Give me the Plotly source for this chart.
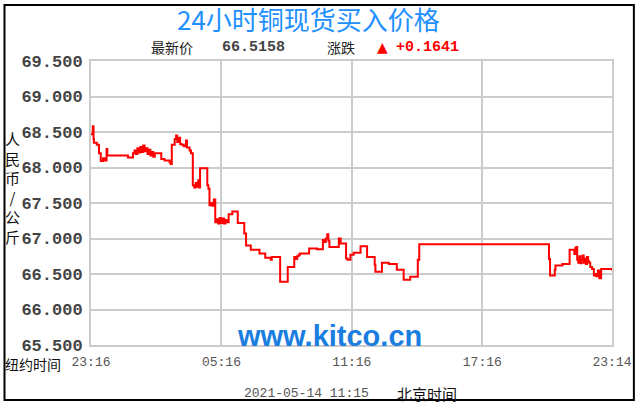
import plotly.graph_objects as go

# ---- data (minutes after 23:16 New York time, price RMB/kg) ----
minutes = [0, 5, 7, 8, 16, 22, 27, 33, 38, 43, 45, 102, 116,
           120, 124, 128, 132, 136, 140, 144, 148, 152, 156, 160, 164, 168, 172, 176,
           194, 203, 217, 220, 223, 231, 235, 238, 242, 246, 250, 256, 262, 265, 272, 276,
           281, 285, 289, 292, 296, 299, 301, 321, 324, 327, 331, 335, 339,
           343, 347, 351, 355, 359, 363, 367, 371, 375, 380, 390, 405, 423, 428,
           441, 465, 481, 496, 499, 522, 543, 561, 565, 569, 573, 577, 602, 624,
           640, 643, 648, 652, 655, 658, 684, 689, 704, 708, 716, 725, 744, 762,
           783, 785, 803, 822, 844, 863, 881, 902, 906,
           1260, 1264, 1267, 1280, 1282, 1301, 1321, 1334, 1337, 1340, 1342, 1345,
           1348, 1351, 1354, 1357, 1360, 1363, 1366, 1369, 1372, 1375, 1378, 1383,
           1388, 1392, 1395, 1399, 1403, 1408, 1438]
prices = [68.47, 68.58, 68.40, 68.35, 68.32, 68.20, 68.09, 68.13, 68.10, 68.26, 68.17, 68.14, 68.20,
          68.24, 68.19, 68.27, 68.21, 68.29, 68.22, 68.31, 68.23, 68.27, 68.19, 68.25, 68.17, 68.22, 68.15, 68.20,
          68.12, 68.10, 68.07, 68.05, 68.32, 68.40, 68.45, 68.36, 68.42, 68.33, 68.32, 68.30, 68.38, 68.28, 68.24, 68.20,
          67.75, 67.72, 67.78, 67.73, 67.82, 67.72, 67.99, 67.75, 67.70, 67.47, 67.50, 67.46, 67.55,
          67.23, 67.27, 67.21, 67.29, 67.22, 67.28, 67.21, 67.26, 67.23, 67.34, 67.38, 67.22, 67.07, 66.90,
          66.84, 66.79, 66.73, 66.70, 66.74, 66.39, 66.60, 66.74, 66.71, 66.75, 66.77, 66.79, 66.86, 66.85,
          66.98, 66.95, 67.00, 67.06, 66.97, 66.88, 67.00, 66.93, 66.72, 66.70, 66.77, 66.80, 66.89, 66.74,
          66.63, 66.53, 66.66, 66.64, 66.56, 66.42, 66.46, 66.70, 66.92,
          66.92, 66.71, 66.48, 66.56, 66.62, 66.64, 66.84, 66.78, 66.87, 66.88, 66.70, 66.66,
          66.75, 66.65, 66.70, 66.76, 66.66, 66.72, 66.64, 66.74, 66.68, 66.66, 66.60, 66.57,
          66.48, 66.50, 66.47, 66.55, 66.44, 66.57, 66.55]

x_tick_vals = [0, 360, 720, 1080, 1438]
x_tick_text = ["23:16", "05:16", "11:16", "17:16", "23:14"]
y_tick_vals = [65.5, 66.0, 66.5, 67.0, 67.5, 68.0, 68.5, 69.0, 69.5]
y_tick_text = ["65.500", "66.000", "66.500", "67.000", "67.500", "68.000", "68.500", "69.000", "69.500"]

title_text = "24小时铜现货买入价格"
latest_label = "最新价"
latest_value = "66.5158"
change_label = "涨跌"
change_value = "+0.1641"
y_title = "人民币/公斤"
x_left_label = "纽约时间"
stamp_time = "2021-05-14 11:15"
stamp_zone = "北京时间"
watermark = "www.kitco.cn"

# ---- layout geometry (pixels) ----
W, H = 644, 410
PL, PR, PT, PB = 91, 615, 61, 345


def px(x):
    return (x - PL) / (PR - PL)


def py(y):
    return (PB - y) / (PB - PT)


CJK = "Noto Sans CJK SC"
MONO = "Liberation Mono"

fig = go.Figure()
fig.add_trace(go.Scatter(
    x=minutes, y=prices, mode="lines", line=dict(color="#ff0000", width=2, shape="hv"),
    hoverinfo="skip", showlegend=False))

fig.update_layout(
    width=W, height=H,
    margin=dict(l=PL, r=W - PR, t=PT, b=H - PB, pad=0),
    paper_bgcolor="white", plot_bgcolor="white",
    showlegend=False,
    xaxis=dict(range=[0, 1438], tickmode="array", tickvals=x_tick_vals, ticktext=x_tick_text,
               showgrid=True, gridcolor="#cccccc", gridwidth=2, zeroline=False,
               showline=True, linecolor="#cccccc", linewidth=2, mirror=True,
               ticks="outside", ticklen=3, tickcolor="rgba(0,0,0,0)",
               tickfont=dict(family=MONO, size=13, color="#555555")),
    yaxis=dict(range=[65.5, 69.5], tickmode="array", tickvals=y_tick_vals, ticktext=y_tick_text,
               showgrid=True, gridcolor="#cccccc", gridwidth=2, zeroline=False,
               showline=True, linecolor="#cccccc", linewidth=2, mirror=True,
               ticks="outside", ticklen=3, tickcolor="rgba(0,0,0,0)",
               tickfont=dict(family=MONO, size=17, color="#444444", weight="bold")),
)

# outer black frame
fig.add_shape(type="rect", xref="paper", yref="paper",
              x0=px(4), x1=px(637), y0=py(400), y1=py(5),
              line=dict(color="black", width=2), fillcolor="rgba(0,0,0,0)", layer="above")


def ann(text, x, y, size, color, family=CJK, xanchor="center", weight="normal"):
    fig.add_annotation(text=text, x=px(x), y=py(y), xref="paper", yref="paper",
                       xanchor=xanchor, yanchor="middle", showarrow=False, borderpad=0,
                       font=dict(family=family, size=size, color=color, weight=weight))


ann(title_text, 310, 18, 26, "#1e90ff")
ann(latest_label, 150, 47, 14, "#222222", xanchor="left")
ann(latest_value, 222, 47, 15, "#444444", family=MONO, xanchor="left", weight="bold")
ann(change_label, 327, 47, 14, "#222222", xanchor="left")
ann("▲", 378, 47, 14, "#ff0000", family="DejaVu Sans", xanchor="left")
ann(change_value, 397, 47, 15, "#ff0000", family=MONO, xanchor="left", weight="bold")
ann("<br>".join(list(y_title)), 12, 187, 15, "#111111")
ann(x_left_label, 4, 364, 14, "#111111", xanchor="left")
ann(stamp_time, 244, 393, 13, "#555555", family=MONO, xanchor="left")
ann(stamp_zone, 398, 393, 15, "#111111", xanchor="left")
ann(watermark, 331, 336, 29, "#1a7de0", family="Liberation Sans", weight="bold")

fig.write_html("out.html", config={"displayModeBar": False},
               post_script="document.body.style.margin='0px';")
